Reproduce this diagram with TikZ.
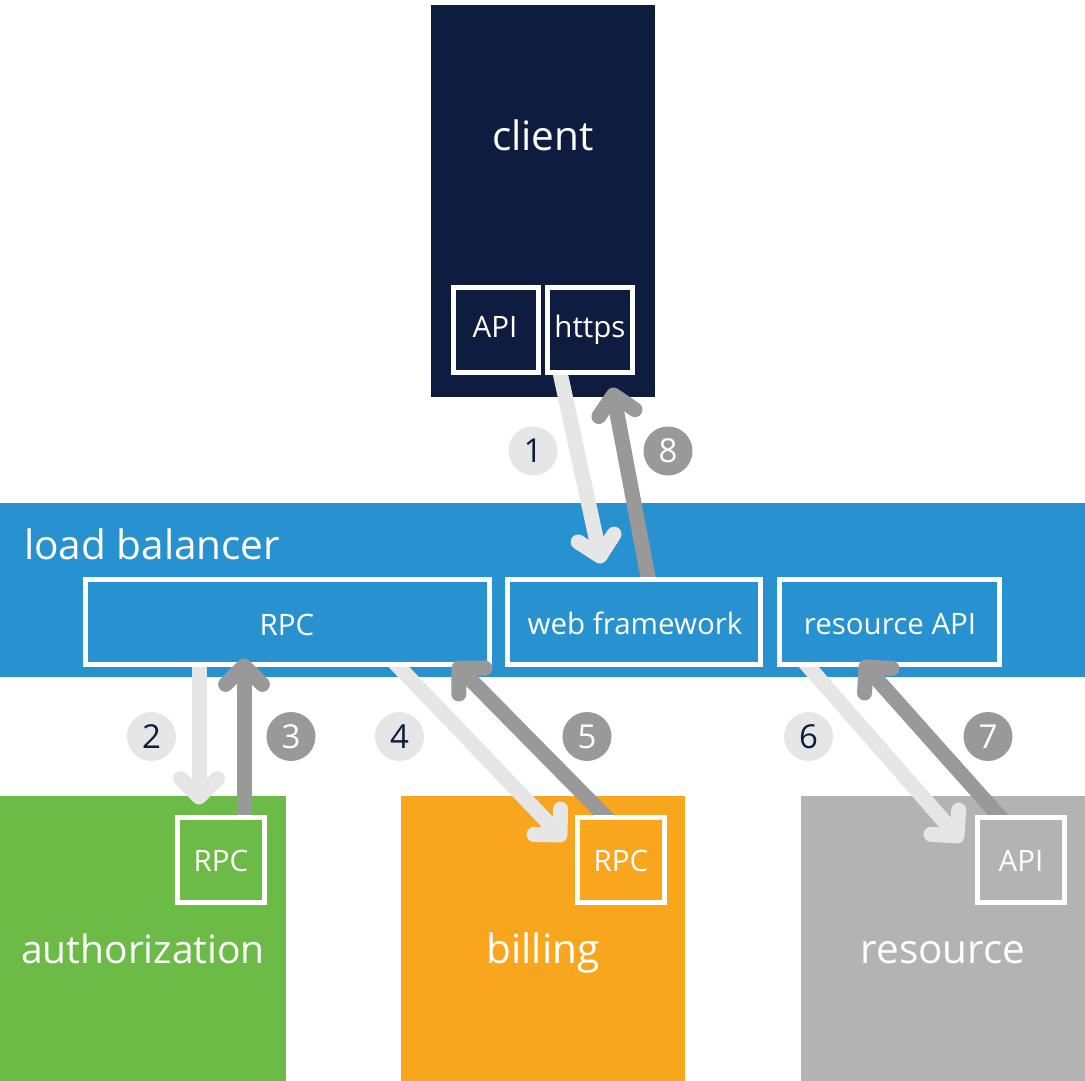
\documentclass[tikz,border=0pt]{standalone}
\usepackage{fontspec}
\setmainfont{Open Sans}
\usetikzlibrary{calc}

\definecolor{navy}{HTML}{0E1C40}
\definecolor{lbblue}{HTML}{2891D0}
\definecolor{authgreen}{HTML}{6BBB46}
\definecolor{billorange}{HTML}{F7A61E}
\definecolor{resgray}{HTML}{B3B3B3}
\definecolor{arrlight}{HTML}{E6E6E6}
\definecolor{arrdark}{HTML}{999999}

\newcommand{\bigfont}{\fontsize{40.5}{46}\selectfont}
\newcommand{\authfont}{\fontsize{39}{45}\selectfont}
\newcommand{\smallfont}{\fontsize{29.5}{34}\selectfont}
\newcommand{\numfont}{\fontsize{33}{38}\selectfont}

\begin{document}
\begin{tikzpicture}[x=1pt,y=-1pt,
  bigbox/.style={fill=#1, draw=none, inner sep=0pt, outer sep=0pt, anchor=north west},
  inbox/.style={fill=#1, draw=white, line width=5pt, inner sep=0pt, outer sep=0pt, anchor=north west},
  lbl/.style={text=white, anchor=base, inner sep=0pt},
  shaft/.style={draw=#1, line width=15pt, shorten <=-14pt},
  head/.style={draw=#1, line width=15pt, line cap=round, line join=round},
  numlight/.style={circle, fill=arrlight, text=navy, minimum size=49pt, inner sep=0pt, font=\numfont},
  numdark/.style={circle, fill=arrdark, text=white, minimum size=49pt, inner sep=0pt, font=\numfont}
]
\useasboundingbox (0,0) rectangle (1085,1081);

% big blocks
\node[bigbox=navy, minimum width=224pt, minimum height=392pt] (client) at (431,5) {};
\node[bigbox=lbblue, minimum width=1085pt, minimum height=174pt] (lb) at (0,503) {};
\node[bigbox=authgreen, minimum width=286pt, minimum height=285pt] (auth) at (0,796) {};
\node[bigbox=billorange, minimum width=284pt, minimum height=285pt] (bill) at (401,796) {};
\node[bigbox=resgray, minimum width=284pt, minimum height=285pt] (res) at (801,796) {};

% arrow end points
\coordinate (s1) at (561,377);   \coordinate (t1) at (600,556);
\coordinate (s8) at (648,577);   \coordinate (t8) at (613.5,395);
\coordinate (s2) at (199,666);   \coordinate (t2) at (199,797);
\coordinate (s3) at (244,816);   \coordinate (t3) at (244,666);
\coordinate (s4) at (398,666);   \coordinate (t4) at (560,835);
\coordinate (s5) at (605,816);   \coordinate (t5) at (459,668);
\coordinate (s6) at (808,666);   \coordinate (t6) at (957,836);
\coordinate (s7) at (999,816);   \coordinate (t7) at (866,667);

% shafts
\draw[shaft=arrlight] (s1) -- (t1);
\draw[shaft=arrdark]  (s8) -- (t8);
\draw[shaft=arrlight] (s2) -- (t2);
\draw[shaft=arrdark]  (s3) -- (t3);
\draw[shaft=arrlight] (s4) -- (t4);
\draw[shaft=arrdark]  (s5) -- (t5);
\draw[shaft=arrlight] (s6) -- (t6);
\draw[shaft=arrdark]  (s7) -- (t7);

% inner boxes
\node[inbox=navy, minimum width=85pt, minimum height=85pt] (capi) at (453.5,287.5) {};
\node[inbox=navy, minimum width=85pt, minimum height=85pt] (chttps) at (547.5,287.5) {};
\node[inbox=lbblue, minimum width=404pt, minimum height=85pt] (lbrpc) at (85.5,579.5) {};
\node[inbox=lbblue, minimum width=253pt, minimum height=85pt] (lbweb) at (507.5,579.5) {};
\node[inbox=lbblue, minimum width=220pt, minimum height=85pt] (lbres) at (779.5,579.5) {};
\node[inbox=authgreen, minimum width=87pt, minimum height=85pt] (arpc) at (177.5,817.5) {};
\node[inbox=billorange, minimum width=87pt, minimum height=85pt] (brpc) at (577.5,817.5) {};
\node[inbox=resgray, minimum width=87pt, minimum height=85pt] (rapi) at (977.5,817.5) {};

% arrow heads
\foreach \i/\c in {1/arrlight,8/arrdark,2/arrlight,3/arrdark,4/arrlight,5/arrdark,6/arrlight,7/arrdark}{
  \draw[head=\c] ($(t\i)!26pt!45:(s\i)$) -- (t\i) -- ($(t\i)!26pt!-45:(s\i)$);
}

% labels
\node[lbl, font=\bigfont] (tclient) at (543,150) {client};
\node[lbl, font=\smallfont] (tcapi) at (495,337) {API};
\node[lbl, font=\smallfont] (tchttps) at (590,337) {https};
\node[lbl, font=\bigfont, anchor=base west] (tlb) at (24,559) {load balancer};
\node[lbl, font=\smallfont] (tlbrpc) at (287,635) {RPC};
\node[lbl, font=\smallfont] (tlbweb) at (635,634) {web framework};
\node[lbl, font=\smallfont] (tlbres) at (890,634) {resource API};
\node[lbl, font=\smallfont] (tarpc) at (221,871) {RPC};
\node[lbl, font=\smallfont] (tbrpc) at (621,871) {RPC};
\node[lbl, font=\smallfont] (trapi) at (1021,871) {API};
\node[lbl, font=\authfont] (tauth) at (143,963) {authorization};
\node[lbl, font=\bigfont] (tbill) at (543,963) {billing};
\node[lbl, font=\bigfont] (tres) at (943,963) {resource};

% step numbers
\node[numlight] (n1) at (533,451) {1};
\node[numdark]  (n8) at (668,451) {8};
\node[numlight] (n2) at (151.5,736.5) {2};
\node[numdark]  (n3) at (291,736.5) {3};
\node[numlight] (n4) at (399.5,736.5) {4};
\node[numdark]  (n5) at (587,736.5) {5};
\node[numlight] (n6) at (808.5,736.5) {6};
\node[numdark]  (n7) at (988,736.5) {7};
\end{tikzpicture}
\end{document}
